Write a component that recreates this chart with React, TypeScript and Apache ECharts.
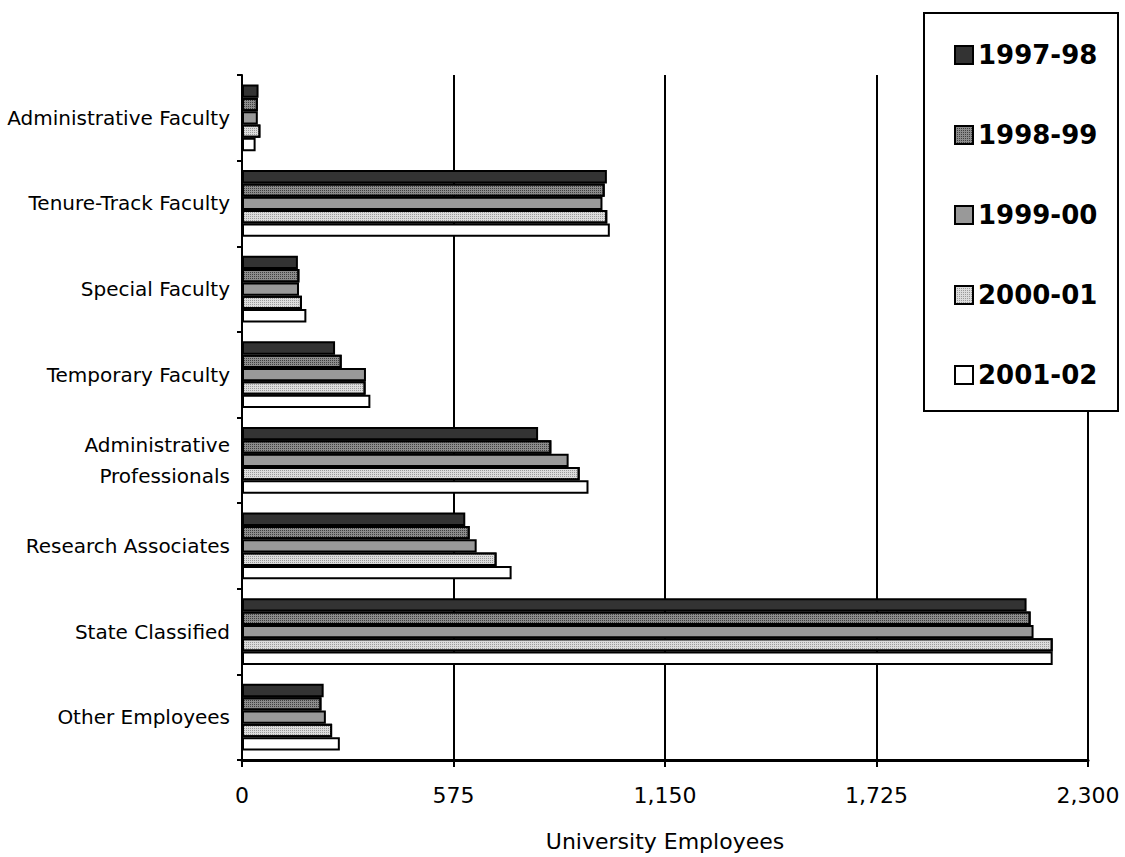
import React, { useEffect, useRef } from "react";
import * as echarts from "echarts";

// Employee categories, top to bottom
const categories = [
  "Administrative Faculty",
  "Tenure-Track Faculty",
  "Special Faculty",
  "Temporary Faculty",
  "Administrative\nProfessionals",
  "Research Associates",
  "State Classified",
  "Other Employees",
];

const years = ["1997-98", "1998-99", "1999-00", "2000-01", "2001-02"];

// Headcounts per year, in category order
const v1997 = [45, 992, 152, 253, 805, 607, 2133, 222];
const v1998 = [43, 986, 156, 271, 841, 619, 2144, 216];
const v1999 = [43, 980, 155, 337, 888, 638, 2152, 228];
const v2000 = [50, 993, 163, 336, 918, 692, 2204, 245];
const v2001 = [37, 1000, 175, 349, 942, 733, 2204, 266];

const seriesValues = [v1997, v1998, v1999, v2000, v2001];

// Axis scale
const axisMax = 2300;
const axisStep = 575;

const FONT = "DejaVu Sans";

const fills = ["#333333", "#8c8c8c", "#999999", "#dcdcdc", "#ffffff"];
const decals: (object | null)[] = [
  null,
  { symbol: "rect", symbolSize: 1, dashArrayX: [1, 1], dashArrayY: [1, 1], color: "#404040", rotation: 0 },
  null,
  { symbol: "rect", symbolSize: 1, dashArrayX: [1, 1], dashArrayY: [1, 1], color: "#9a9a9a", rotation: 0 },
  null,
];

export default function App() {
  const ref = useRef<HTMLDivElement>(null);

  useEffect(() => {
    if (!ref.current) return;
    const chart = echarts.init(ref.current, null, { renderer: "svg" });

    const series = years.map((name, i) => {
      const itemStyle: any = {
        color: fills[i],
        borderColor: "#000",
        borderWidth: 2,
      };
      if (decals[i]) itemStyle.decal = decals[i];
      return {
        name,
        type: "bar",
        data: seriesValues[i],
        barGap: "0%",
        barCategoryGap: "22%",
        itemStyle,
        z: 5,
      };
    });

    chart.setOption({
      animation: false,
      backgroundColor: "#fff",
      textStyle: { fontFamily: FONT },
      grid: { left: 242, right: 37, top: 75, bottom: 85, containLabel: false },
      xAxis: {
        type: "value",
        min: 0,
        max: axisMax,
        interval: axisStep,
        name: "University Employees",
        nameLocation: "middle",
        nameGap: 70,
        nameTextStyle: { fontFamily: FONT, fontSize: 22, color: "#000" },
        axisLine: { show: true, lineStyle: { color: "#000", width: 3 } },
        axisTick: { show: true, length: 7, lineStyle: { color: "#000", width: 2 } },
        axisLabel: {
          margin: 24,
          fontFamily: FONT,
          fontSize: 22,
          color: "#000",
          formatter: (v: number) => v.toLocaleString("en-US"),
        },
        splitLine: { show: true, lineStyle: { color: "#000", width: 2 } },
      },
      yAxis: {
        type: "category",
        data: categories,
        inverse: true,
        axisLine: { show: true, lineStyle: { color: "#000", width: 2 } },
        axisTick: { show: true, length: 5, lineStyle: { color: "#000", width: 2 } },
        axisLabel: {
          margin: 12,
          fontFamily: FONT,
          fontSize: 20,
          lineHeight: 31,
          color: "#000",
          align: "right",
        },
        splitLine: { show: false },
      },
      legend: {
        orient: "vertical",
        left: 954,
        top: 42,
        padding: 0,
        itemWidth: 18,
        itemHeight: 18,
        itemGap: 54,
        icon: "rect",
        itemStyle: { borderColor: "#000", borderWidth: 2 },
        textStyle: { fontFamily: FONT, fontSize: 26, fontWeight: "bold", color: "#000", lineHeight: 26 },
        data: years,
        z: 20,
      },
      graphic: [
        {
          type: "rect",
          left: 923,
          top: 12,
          z: 15,
          shape: { width: 194, height: 398 },
          style: { fill: "#fff", stroke: "#000", lineWidth: 2 },
        },
      ],
      series,
    });

    return () => chart.dispose();
  }, []);

  return (
    <div
      ref={ref}
      style={{ position: "fixed", left: 0, top: 0, width: 1125, height: 857 }}
    />
  );
}
